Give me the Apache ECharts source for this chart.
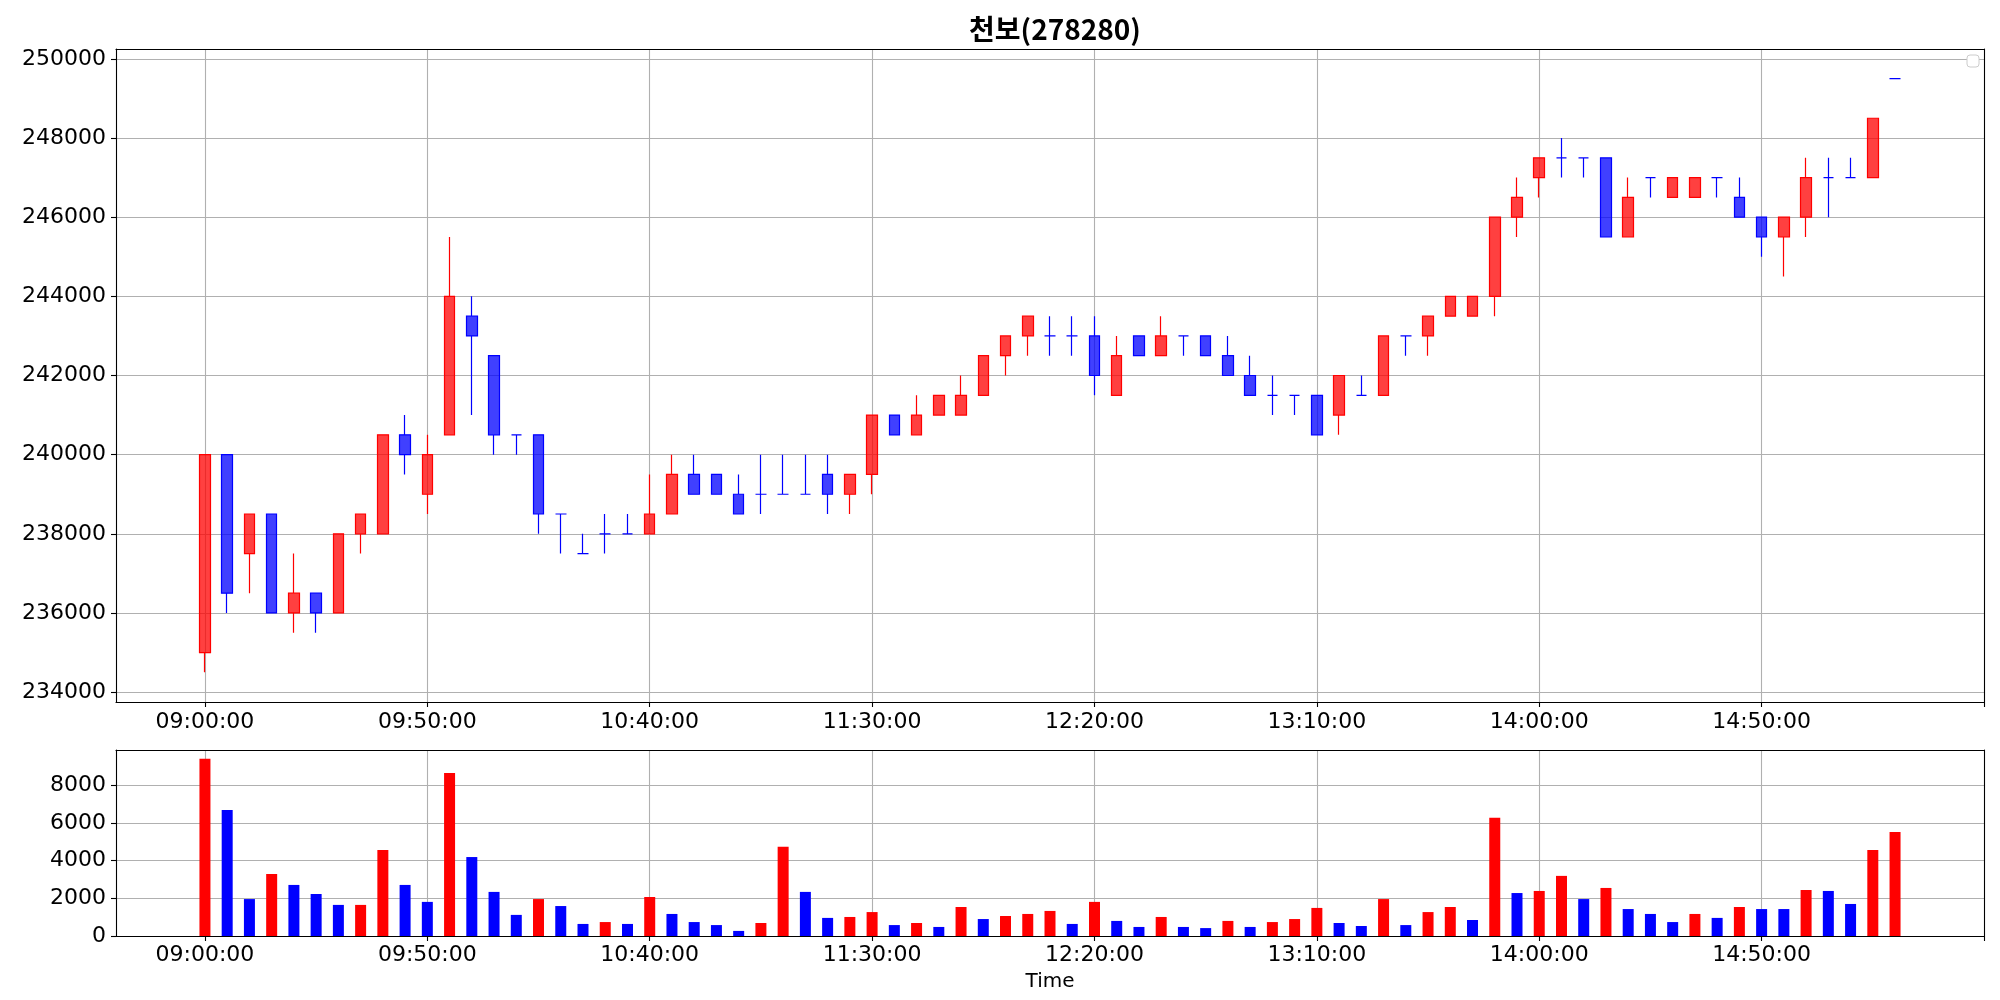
<!DOCTYPE html>
<html>
<head>
<meta charset="utf-8">
<script src="https://cdn.jsdelivr.net/npm/echarts@6/dist/echarts.min.js"></script>
<style>html,body{margin:0;padding:0;background:#fff}#c{width:2000px;height:1000px}</style>
</head>
<body>
<div id="c"></div>
<script>
const titleText = '천보(278280)';
const padBefore = ['08:40:00','08:45:00','08:50:00','08:55:00'];
const padAfter = ['15:25:00','15:30:00','15:35:00','15:40:00'];
const times = ['09:00:00','09:05:00','09:10:00','09:15:00','09:20:00','09:25:00','09:30:00','09:35:00','09:40:00','09:45:00',
'09:50:00','09:55:00','10:00:00','10:05:00','10:10:00','10:15:00','10:20:00','10:25:00','10:30:00','10:35:00',
'10:40:00','10:45:00','10:50:00','10:55:00','11:00:00','11:05:00','11:10:00','11:15:00','11:20:00','11:25:00',
'11:30:00','11:35:00','11:40:00','11:45:00','11:50:00','11:55:00','12:00:00','12:05:00','12:10:00','12:15:00',
'12:20:00','12:25:00','12:30:00','12:35:00','12:40:00','12:45:00','12:50:00','12:55:00','13:00:00','13:05:00',
'13:10:00','13:15:00','13:20:00','13:25:00','13:30:00','13:35:00','13:40:00','13:45:00','13:50:00','13:55:00',
'14:00:00','14:05:00','14:10:00','14:15:00','14:20:00','14:25:00','14:30:00','14:35:00','14:40:00','14:45:00',
'14:50:00','14:55:00','15:00:00','15:05:00','15:10:00','15:15:00','15:20:00'];
const tickLabels = ['09:00:00','09:50:00','10:40:00','11:30:00','12:20:00','13:10:00','14:00:00','14:50:00'];
const opens = [235000,240000,237500,238500,236000,236500,236000,238000,238000,240500,
239000,240500,243500,242500,240500,240500,238500,237500,238000,238000,
238000,238500,239500,239500,239000,239000,239000,239000,239500,239000,
239500,241000,240500,241000,241000,241500,242500,243000,243000,243000,
243000,241500,243000,242500,243000,243000,242500,242000,241500,241500,
241500,241000,241500,241500,243000,243000,243500,243500,244000,246000,
247000,247500,247500,247500,245500,247000,246500,246500,247000,246500,
246000,245500,246000,247000,247000,247000,249500];
const closes = [240000,236500,238500,236000,236500,236000,238000,238500,240500,240000,
240000,244000,243000,240500,240500,238500,238500,237500,238000,238000,
238500,239500,239000,239000,238500,239000,239000,239000,239000,239500,
241000,240500,241000,241500,241500,242500,243000,243500,243000,243000,
242000,242500,242500,243000,243000,242500,242000,241500,241500,241500,
240500,242000,241500,243000,243000,243500,244000,244000,246000,246500,
247500,247500,247500,245500,246500,247000,247000,247000,247000,246000,
245500,246000,247000,247000,247000,248500,249500];
const lows = [234500,236000,236500,236000,235500,235500,236000,237500,238000,239500,
238500,240500,241000,240000,240000,238000,237500,237500,237500,238000,
238000,238500,239000,239000,238500,238500,239000,239000,238500,238500,
239000,240500,240500,241000,241000,241500,242000,242500,242500,242500,
241500,241500,242500,242500,242500,242500,242000,241500,241000,241000,
240500,240500,241500,241500,242500,242500,243500,243500,243500,245500,
246500,247000,247000,245500,245500,246500,246500,246500,246500,246000,
245000,244500,245500,246000,247000,247000,249500];
const highs = [240000,240000,238500,238500,237500,236500,238000,238500,240500,241000,
240500,245500,244000,242500,240500,240500,238500,238000,238500,238500,
239500,240000,240000,239500,239500,240000,240000,240000,240000,239500,
241000,241000,241500,241500,242000,242500,243000,243500,243500,243500,
243500,243000,243000,243500,243000,243000,243000,242500,242000,241500,
241500,242000,242000,243000,243000,243500,244000,244000,246000,247000,
247500,248000,247500,247500,247000,247000,247000,247000,247000,247000,
246000,246000,247500,247500,247500,248500,249500];
const volumes = [9400,6690,1960,3290,2710,2230,1650,1650,4570,2710,
1810,8650,4190,2340,1120,1960,1590,640,740,640,
2070,1170,740,580,270,690,4730,2340,960,1010,
1270,580,690,480,1540,900,1060,1170,1330,640,
1810,800,480,1010,480,420,800,480,740,900,
1490,690,530,1960,580,1270,1540,850,6270,2280,
2390,3190,1960,2550,1430,1170,740,1170,960,1540,
1430,1430,2440,2390,1700,4570,5520];
const volUp = [1,0,0,1,0,0,0,1,1,0,
0,1,0,0,0,1,0,0,1,0,
1,0,0,0,0,1,1,0,0,1,
1,0,1,0,1,0,1,1,1,0,
1,0,0,1,0,0,1,0,1,1,
1,0,0,1,0,1,1,0,1,0,
1,1,0,1,0,0,0,1,0,1,
0,0,1,0,0,1,1];
const priceTicks = [234000,236000,238000,240000,242000,244000,246000,248000,250000];
const volTicks = [0,2000,4000,6000,8000];

const cats = padBefore.concat(times, padAfter);
const empty = n => Array.from({length: n}, () => '-');
const candleData = empty(padBefore.length).concat(
  times.map((t, i) => [opens[i], closes[i], lows[i], highs[i]]), empty(padAfter.length));
const volData = empty(padBefore.length).concat(
  times.map((t, i) => ({value: volumes[i], itemStyle: {color: volUp[i] ? '#ff0000' : '#0000ff'}})),
  empty(padAfter.length));

const isTick = (idx, val) => tickLabels.indexOf(val) >= 0;
const isTickOrEnd = (idx, val) => isTick(idx, val) || idx === cats.length - 1;
const plain = v => String(v);

const FONT = 'DejaVu Sans';
const gridLine = {show: true, lineStyle: {color: '#b0b0b0', width: 1.1}};

function xAxisCfg(gridIndex, margin, extra) {
  return Object.assign({
    type: 'category', gridIndex, data: cats, boundaryGap: false,
    axisLine: {show: true, onZero: false, lineStyle: {color: '#000', width: 1.1}},
    axisTick: {show: true, interval: isTickOrEnd, length: 5, lineStyle: {color: '#000', width: 1.1}},
    axisLabel: {show: true, interval: isTick, margin, fontSize: 22, fontFamily: FONT, color: '#000'},
    splitLine: Object.assign({interval: isTick}, gridLine)
  }, extra || {});
}
function frameX(gridIndex) {
  return {type: 'category', gridIndex, data: cats, boundaryGap: false, position: 'top',
    axisLine: {show: true, onZero: false, lineStyle: {color: '#000', width: 1.1}},
    axisTick: {show: false}, axisLabel: {show: false}, splitLine: {show: false}};
}
function frameY(gridIndex, min, max) {
  return {type: 'value', gridIndex, min, max, position: 'right',
    axisLine: {show: true, onZero: false, lineStyle: {color: '#000', width: 1.1}},
    axisTick: {show: false}, axisLabel: {show: false}, splitLine: {show: false}};
}

const chart = echarts.init(document.getElementById('c'), null, {renderer: 'canvas', width: 2000, height: 1000});
chart.setOption({
  animation: false,
  backgroundColor: '#ffffff',
  title: {text: titleText, left: 1050, top: 10, textAlign: 'center',
    textStyle: {fontFamily: 'Noto Sans CJK KR', fontWeight: 'bold', fontSize: 28, color: '#000'}},
  grid: [
    {left: 116, right: 16, top: 49, height: 653},
    {left: 116, right: 16, top: 750, height: 186}
  ],
  xAxis: [
    xAxisCfg(0, 9),
    xAxisCfg(1, 8, {name: 'Time', nameLocation: 'middle', nameGap: 36,
      nameTextStyle: {fontSize: 20, fontFamily: FONT, color: '#000'}}),
    frameX(0), frameX(1)
  ],
  yAxis: [
    {type: 'value', gridIndex: 0, min: 233750, max: 250250,
      axisLine: {show: true, onZero: false, lineStyle: {color: '#000', width: 1.1}},
      axisTick: {show: true, length: 5, customValues: priceTicks, lineStyle: {color: '#000', width: 1.1}},
      axisLabel: {margin: 10, fontSize: 22, fontFamily: FONT, color: '#000', customValues: priceTicks, formatter: plain},
      splitLine: gridLine, minInterval: 2000, maxInterval: 2000},
    {type: 'value', gridIndex: 1, min: 0, max: 9870,
      axisLine: {show: true, onZero: false, lineStyle: {color: '#000', width: 1.1}},
      axisTick: {show: true, length: 5, customValues: volTicks, lineStyle: {color: '#000', width: 1.1}},
      axisLabel: {margin: 10, fontSize: 22, fontFamily: FONT, color: '#000', customValues: volTicks, formatter: plain},
      splitLine: gridLine, minInterval: 2000, maxInterval: 2000},
    frameY(0, 233750, 250250), frameY(1, 0, 9870)
  ],
  graphic: [
    {type: 'rect', shape: {x: 1967, y: 55, width: 12, height: 12, r: 3},
      style: {fill: '#ffffff', stroke: '#cccccc', lineWidth: 1}, z: 100}
  ],
  series: [
    {type: 'candlestick', name: 'price', xAxisIndex: 0, yAxisIndex: 0, data: candleData, barWidth: 11,
      itemStyle: {color: 'rgba(255,0,0,0.75)', color0: 'rgba(0,0,255,0.75)',
        borderColor: '#ff0000', borderColor0: '#0000ff', borderColorDoji: '#0000ff', borderWidth: 1.2}},
    {type: 'bar', name: 'volume', xAxisIndex: 1, yAxisIndex: 1, data: volData, barWidth: 11}
  ]
});
</script>
</body>
</html>
